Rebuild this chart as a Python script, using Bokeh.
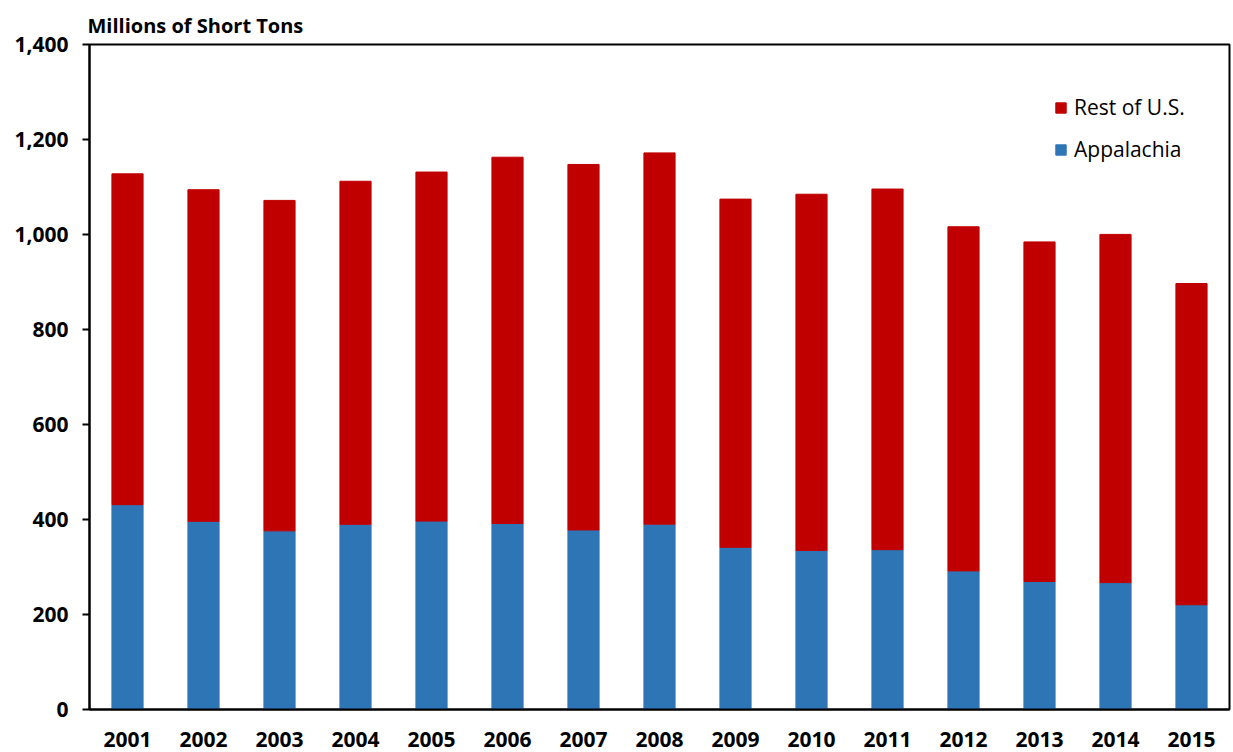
from bokeh.plotting import figure
from bokeh.models import Range1d, FactorRange, Legend, LegendItem, NumeralTickFormatter, FixedTicker
from bokeh.embed import file_html
from bokeh.resources import INLINE

years = ["2001", "2002", "2003", "2004", "2005", "2006", "2007", "2008",
         "2009", "2010", "2011", "2012", "2013", "2014", "2015"]
appalachia = [431.2, 396.2, 376.1, 389.9, 396.7, 391.6, 378.0, 390.2,
              341.5, 335.0, 336.5, 291.8, 269.6, 267.2, 220.5]
rest_of_us = [696.5, 698.1, 695.7, 722.2, 734.8, 771.1, 769.5, 781.6,
              733.0, 749.8, 759.2, 724.5, 714.8, 733.0, 676.3]
y_ticks = [0, 200, 400, 600, 800, 1000, 1200, 1400]

FONT = "Open Sans"
RED = "#C00000"
BLUE = "#2E75B6"

p = figure(x_range=FactorRange(*years, range_padding=0), y_range=Range1d(0, 1400),
           width=1232, height=752, output_backend="svg", toolbar_location=None,
           min_border_left=89, min_border_right=3, min_border_bottom=43,
           min_border_top=44)

p.title.text = "Millions of Short Tons"
p.title.text_font = FONT
p.title.text_font_size = "20px"
p.title.text_font_style = "bold"
p.title.text_color = "black"
p.title.align = "left"
p.title.offset = -2
p.title.standoff = 12

src = dict(years=years, appalachia=appalachia, rest_of_us=rest_of_us)
rs = p.vbar_stack(["appalachia", "rest_of_us"], x="years", width=0.41, source=src,
                  color=[BLUE, RED], line_color=[BLUE, RED])

legend = Legend(items=[LegendItem(label="Rest of U.S.", renderers=[rs[1]]),
                       LegendItem(label="Appalachia", renderers=[rs[0]])],
                location=(965, 546), orientation="vertical")
legend.background_fill_alpha = 0
legend.border_line_color = None
legend.padding = 0
legend.margin = 0
legend.spacing = 14
legend.glyph_width = 13
legend.glyph_height = 13
legend.label_height = 20
legend.label_standoff = 7
legend.label_text_font = FONT
legend.label_text_font_size = "21px"
legend.label_text_color = "black"
p.add_layout(legend, "center")

p.xgrid.grid_line_color = None
p.ygrid.grid_line_color = None
p.outline_line_color = "black"
p.outline_line_width = 2
p.outline_line_alpha = 1

p.yaxis.ticker = FixedTicker(ticks=y_ticks)
p.yaxis.formatter = NumeralTickFormatter(format="0,0")
p.yaxis.major_tick_out = 7
p.yaxis.major_tick_in = 0
p.yaxis.minor_tick_line_color = None
p.yaxis.axis_line_width = 2
p.yaxis.major_tick_line_width = 2
p.yaxis.major_label_standoff = 14

p.xaxis.major_tick_out = 0
p.xaxis.major_tick_in = 0
p.xaxis.axis_line_width = 2
p.xaxis.major_label_standoff = 22

for ax in (p.xaxis, p.yaxis):
    ax.axis_line_color = "black"
    ax.major_tick_line_color = "black"
    ax.major_label_text_font = FONT
    ax.major_label_text_font_size = "21px"
    ax.major_label_text_font_style = "bold"
    ax.major_label_text_color = "black"

open("out.html", "w").write(file_html(p, INLINE))
